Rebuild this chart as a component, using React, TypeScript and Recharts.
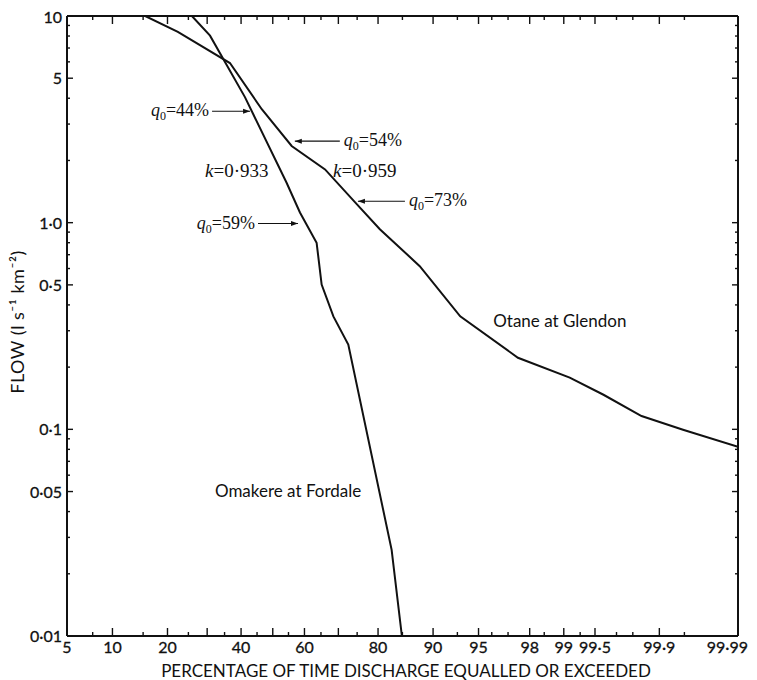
import { LineChart, Line, XAxis, YAxis, ReferenceDot } from 'recharts';

// flow duration curves (percent of time, l s-1 km-2)
const otanePct = [15.4, 22.4, 36.6, 46.5, 56.0, 66.2, 74.9, 80.4, 88.0, 93.3, 97.5, 99.12, 99.59, 99.84, 99.948, 99.99];
const otaneFlow = [10, 8.37, 5.92, 3.54, 2.35, 1.81, 1.23, 0.93, 0.616, 0.352, 0.222, 0.178, 0.147, 0.116, 0.0996, 0.0824];

const omakerePct = [25.9, 30.8, 41.2, 54.4, 58.6, 63.7, 65.2, 68.6, 72.7, 82.9, 84.9];
const omakereFlow = [10, 8.03, 4.05, 1.56, 1.12, 0.8, 0.502, 0.352, 0.257, 0.0261, 0.01];

// probability axis ticks
const xLabelled = [5, 10, 20, 40, 60, 80, 90, 95, 98, 99, 99.5, 99.9, 99.99];
const xLabels = ['5', '10', '20', '40', '60', '80', '90', '95', '98', '99', '99·5', '99·9', '99·99'];
const xMajorPlain = [30, 50, 70];
const xMinor = [7.5, 15, 25, 35, 45, 55, 65, 75, 85, 93, 96, 97, 98.5, 99.3, 99.7, 99.8, 99.95];

// log axis ticks
const yLabelled = [0.01, 0.05, 0.1, 0.5, 1, 5, 10];
const yLabels = ['0·01', '0·05', '0·1', '0·5', '1·0', '5', '10'];
const yMinor = [0.02, 0.03, 0.04, 0.06, 0.07, 0.08, 0.09, 0.2, 0.3, 0.4, 0.6, 0.7, 0.8, 0.9, 2, 3, 4, 6, 7, 8, 9];

// inverse normal cdf (Acklam), p in percent
const probit = (pct: number) => {
  const p = pct / 100;
  const a = [-39.69683028665376, 220.9460984245205, -275.9285104469687, 138.357751867269, -30.66479806614716, 2.506628277459239];
  const b = [-54.47609879822406, 161.5858368580409, -155.6989798598866, 66.80131188771972, -13.28068155288572];
  const c = [-0.007784894002430293, -0.3223964580411365, -2.400758277161838, -2.549732539343734, 4.374664141464968, 2.938163982698783];
  const d = [0.007784695709041462, 0.3224671290700398, 2.445134137142996, 3.754408661907416];
  const pl = 0.02425;
  if (p < pl) {
    const q = Math.sqrt(-2 * Math.log(p));
    return (((((c[0] * q + c[1]) * q + c[2]) * q + c[3]) * q + c[4]) * q + c[5]) / ((((d[0] * q + d[1]) * q + d[2]) * q + d[3]) * q + 1);
  }
  if (p > 1 - pl) {
    const q = Math.sqrt(-2 * Math.log(1 - p));
    return -(((((c[0] * q + c[1]) * q + c[2]) * q + c[3]) * q + c[4]) * q + c[5]) / ((((d[0] * q + d[1]) * q + d[2]) * q + d[3]) * q + 1);
  }
  const q = p - 0.5;
  const r = q * q;
  return ((((((a[0] * r + a[1]) * r + a[2]) * r + a[3]) * r + a[4]) * r + a[5]) * q) / (((((b[0] * r + b[1]) * r + b[2]) * r + b[3]) * r + b[4]) * r + 1);
};

const otaneData = otanePct.map((p, i) => ({ z: probit(p), flow: otaneFlow[i] }));
const omakereData = omakerePct.map((p, i) => ({ z: probit(p), flow: omakereFlow[i] }));

const k = (v: number) => v.toFixed(5);
const xInfo = new Map<string, { len: number; label?: string; last?: boolean }>();
xLabelled.forEach((p, i) => xInfo.set(k(probit(p)), { len: 8, label: xLabels[i], last: i === xLabelled.length - 1 }));
xMajorPlain.forEach((p) => xInfo.set(k(probit(p)), { len: 8 }));
xMinor.forEach((p) => xInfo.set(k(probit(p)), { len: 4 }));
const xTicks = [...xLabelled, ...xMajorPlain, ...xMinor].map(probit).sort((a, b) => a - b);

const yInfo = new Map<string, { len: number; label?: string }>();
yLabelled.forEach((v, i) => yInfo.set(k(v), { len: 6, label: yLabels[i] }));
yMinor.forEach((v) => yInfo.set(k(v), { len: 3 }));
const yTicks = [...yLabelled, ...yMinor].sort((a, b) => a - b);

const FONT = 'Lato, "DejaVu Sans", sans-serif';
const SERIF = '"Liberation Serif", "DejaVu Serif", serif';
const INK = '#111';

const BottomTick = (props: any) => {
  const { x, y, payload } = props;
  const t = xInfo.get(k(payload.value)) || { len: 4 };
  return (
    <g>
      <line x1={x} x2={x} y1={y} y2={y - t.len} stroke={INK} strokeWidth={1.4} />
      {t.label && (
        <text
          x={t.last ? x + 10 : x}
          y={y + 17}
          textAnchor={t.last ? 'end' : 'middle'}
          fontFamily={FONT}
          fontSize={16}
          fill={INK}
          stroke={INK}
          strokeWidth={0.3}
        >
          {t.label}
        </text>
      )}
    </g>
  );
};

const TopTick = (props: any) => {
  const { x, y, payload } = props;
  const t = xInfo.get(k(payload.value)) || { len: 4 };
  return <line x1={x} x2={x} y1={y} y2={y + t.len} stroke={INK} strokeWidth={1.4} />;
};

const LeftTick = (props: any) => {
  const { x, y, payload } = props;
  const t = yInfo.get(k(payload.value)) || { len: 3 };
  const top = payload.value === 10;
  return (
    <g>
      <line x1={x} x2={x + t.len} y1={y} y2={y} stroke={INK} strokeWidth={1.4} />
      {t.label && (
        <text x={x - 5} y={y + (top ? 7 : 6)} textAnchor="end" fontFamily={FONT} fontSize={16} fill={INK} stroke={INK} strokeWidth={0.3}>
          {t.label}
        </text>
      )}
    </g>
  );
};

const RightTick = (props: any) => {
  const { x, y, payload } = props;
  const t = yInfo.get(k(payload.value)) || { len: 3 };
  return <line x1={x} x2={x - t.len} y1={y} y2={y} stroke={INK} strokeWidth={1.4} />;
};

// q0 label with arrow; side = where the text sits relative to the arrow tip
const qNote = (value: string, side: 'left' | 'right', len: number) => (p: any) => {
  const { cx, cy } = p;
  const dir = side === 'left' ? -1 : 1;
  const tail = cx + dir * len;
  const tx = side === 'left' ? tail - 3 : tail + 4;
  return (
    <g>
      <line x1={tail} x2={cx} y1={cy} y2={cy} stroke={INK} strokeWidth={1.1} />
      <polygon points={`${cx},${cy} ${cx + dir * 7},${cy - 2.5} ${cx + dir * 7},${cy + 2.5}`} fill={INK} />
      <text x={tx} y={cy + 5} textAnchor={side === 'left' ? 'end' : 'start'} fontFamily={SERIF} fontSize={18} fill={INK}>
        <tspan fontStyle="italic">q</tspan>
        <tspan fontSize={12} dy={4}>0</tspan>
        <tspan dy={-4}>={value}%</tspan>
      </text>
    </g>
  );
};

const kNote = (value: string) => (p: any) => (
  <text x={p.cx} y={p.cy + 6} fontFamily={SERIF} fontSize={19} fill={INK}>
    <tspan fontStyle="italic">k</tspan>={value}
  </text>
);

const nameNote = (name: string) => (p: any) => (
  <text x={p.cx} y={p.cy + 5} fontFamily={FONT} fontSize={17} fill={INK}>
    {name}
  </text>
);

const App = () => (
  <LineChart width={741} height={672} margin={{ top: 7, right: 10, bottom: 14, left: 4 }}>
    <XAxis
      type="number"
      dataKey="z"
      domain={[probit(5), probit(99.99)]}
      allowDataOverflow
      ticks={xTicks}
      interval={0}
      tick={<BottomTick />}
      tickLine={false}
      tickSize={0}
      tickMargin={0}
      height={30}
      axisLine={{ stroke: INK, strokeWidth: 2 }}
    />
    <XAxis
      xAxisId="top"
      orientation="top"
      type="number"
      dataKey="z"
      domain={[probit(5), probit(99.99)]}
      allowDataOverflow
      ticks={xTicks}
      interval={0}
      tick={<TopTick />}
      tickLine={false}
      tickSize={0}
      tickMargin={0}
      height={1}
      axisLine={{ stroke: INK, strokeWidth: 2 }}
    />
    <YAxis
      scale="log"
      type="number"
      domain={[0.01, 10]}
      allowDataOverflow
      ticks={yTicks}
      interval={0}
      tick={<LeftTick />}
      tickLine={false}
      tickSize={0}
      tickMargin={0}
      width={55}
      axisLine={{ stroke: INK, strokeWidth: 2 }}
    />
    <YAxis
      yAxisId="right"
      orientation="right"
      scale="log"
      type="number"
      domain={[0.01, 10]}
      allowDataOverflow
      ticks={yTicks}
      interval={0}
      tick={<RightTick />}
      tickLine={false}
      tickSize={0}
      tickMargin={0}
      width={1}
      axisLine={{ stroke: INK, strokeWidth: 2 }}
    />
    <Line data={otaneData} dataKey="flow" type="linear" dot={false} stroke={INK} strokeWidth={2} isAnimationActive={false} />
    <Line data={omakereData} dataKey="flow" type="linear" dot={false} stroke={INK} strokeWidth={2} isAnimationActive={false} />

    <ReferenceDot x={probit(42.8)} y={3.46} r={0} shape={qNote('44', 'left', 38)} />
    <ReferenceDot x={probit(57)} y={2.48} r={0} shape={qNote('54', 'right', 45)} />
    <ReferenceDot x={probit(58)} y={0.99} r={0} shape={qNote('59', 'left', 40)} />
    <ReferenceDot x={probit(75.2)} y={1.27} r={0} shape={qNote('73', 'right', 47)} />
    <ReferenceDot x={probit(29.4)} y={1.77} r={0} shape={kNote('0·933')} />
    <ReferenceDot x={probit(68.5)} y={1.77} r={0} shape={kNote('0·959')} />
    <ReferenceDot x={probit(96.1)} y={0.329} r={0} shape={nameNote('Otane at Glendon')} />
    <ReferenceDot x={probit(32.2)} y={0.0499} r={0} shape={nameNote('Omakere at Fordale')} />

    <text x={398} y={669} textAnchor="middle" fontFamily={FONT} fontSize={17} fill={INK}>
      PERCENTAGE OF TIME DISCHARGE EQUALLED OR EXCEEDED
    </text>
    <text
      x={16}
      y={314}
      transform="rotate(-90 16 314)"
      textAnchor="middle"
      fontFamily={FONT}
      fontSize={18}
      letterSpacing={0.5}
      fill={INK}
    >
      FLOW (l s⁻¹ km⁻²)
    </text>
  </LineChart>
);

export default App;
